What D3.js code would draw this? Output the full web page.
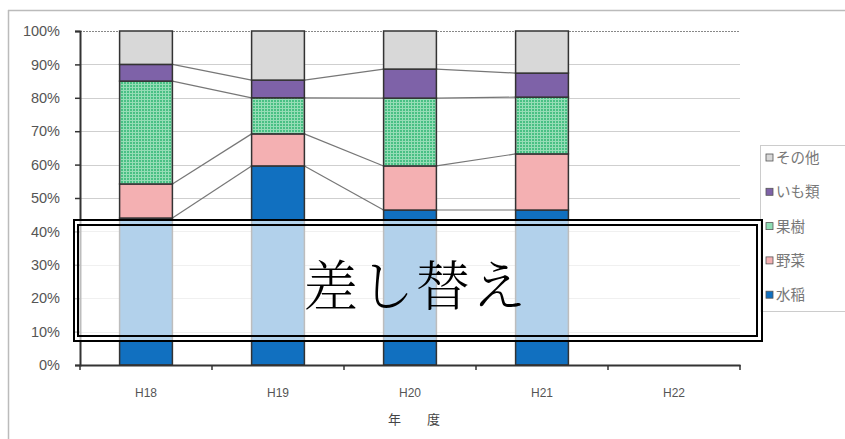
<!DOCTYPE html>
<html>
<head>
<meta charset="utf-8">
<script src="https://cdn.jsdelivr.net/npm/d3@7"></script>
<style>
  body { margin: 0; background: #fff; }
  svg { display: block; font-family: Arial, "Liberation Sans", "Noto Sans CJK JP", sans-serif; }
</style>
</head>
<body>
<script>
// Data (percent shares)
var years = ['H18', 'H19', 'H20', 'H21', 'H22'];
var seriesNames = ['水稲', '野菜', '果樹', 'いも類', 'その他'];
var suito = [44.0, 59.6, 46.4, 46.4, null];
var yasai = [10.2, 9.6, 13.2, 16.8, null];
var kaju = [30.8, 10.8, 20.3, 17.0, null];
var imo = [5.0, 5.3, 8.7, 7.2, null];
var sonota = [10.0, 14.7, 11.4, 12.6, null];
var yTicks = [0, 10, 20, 30, 40, 50, 60, 70, 80, 90, 100];

var colors = ['#1170c0', '#f4b0b2', 'url(#check)', '#7e62a8', '#d8d8d8'];
var legendColors = ['#1170c0', '#f4b0b2', '#8fdcb4', '#7e62a8', '#d8d8d8'];

var WIDTH = 845, HEIGHT = 439;
var X0 = 80, X1 = 740, Y0 = 365, Y1 = 31;

var rows = years.map(function (y, i) {
  return { year: y, '水稲': suito[i], '野菜': yasai[i], '果樹': kaju[i], 'いも類': imo[i], 'その他': sonota[i] };
});
var stacked = d3.stack().keys(seriesNames)
  .value(function (d, k) { return d[k] == null ? 0 : d[k]; })(rows);

var x = d3.scaleBand().domain(years).range([X0, X1]).paddingInner(0.6).paddingOuter(0.3);
var y = d3.scaleLinear().domain([0, 100]).range([Y0, Y1]);

var svg = d3.select('body').append('svg')
  .attr('width', WIDTH)
  .attr('height', HEIGHT);

var defs = svg.append('defs');
var pat = defs.append('pattern')
  .attr('id', 'check')
  .attr('patternUnits', 'userSpaceOnUse')
  .attr('width', 3)
  .attr('height', 3);
pat.append('rect').attr('width', 3).attr('height', 3).attr('fill', '#48c084');
pat.append('rect').attr('width', 3).attr('height', 1).attr('fill', '#95ddb6');
pat.append('rect').attr('width', 1).attr('height', 3).attr('fill', '#95ddb6');

// outer chart frame
svg.append('line').attr('x1', 8).attr('x2', WIDTH).attr('y1', 10.5).attr('y2', 10.5)
  .attr('stroke', '#bbb').attr('stroke-width', 1.5);
svg.append('line').attr('x1', 8.5).attr('x2', 8.5).attr('y1', 10).attr('y2', HEIGHT)
  .attr('stroke', '#bbb').attr('stroke-width', 1.5);

// gridlines
svg.append('g').selectAll('line')
  .data(yTicks.filter(function (t) { return t > 0; }))
  .join('line')
  .attr('x1', X0).attr('x2', X1)
  .attr('y1', function (d) { return Math.round(y(d)) + 0.5; })
  .attr('y2', function (d) { return Math.round(y(d)) + 0.5; })
  .attr('stroke', function (d) { return d === 100 ? '#888' : '#cfcfcf'; })
  .attr('stroke-dasharray', function (d) { return d === 100 ? '2,1' : null; })
  .attr('stroke-width', 1.2);

// series lines
var bw = x.bandwidth();
var serLines = [];
stacked.slice(0, 4).forEach(function (s) {
  for (var i = 0; i < years.length - 1; i++) {
    if (rows[i + 1][s.key] == null) continue;
    serLines.push({ x1: x(years[i]) + bw, y1: y(s[i][1]), x2: x(years[i + 1]), y2: y(s[i + 1][1]) });
  }
});
svg.append('g').selectAll('line')
  .data(serLines)
  .join('line')
  .attr('x1', function (d) { return d.x1; })
  .attr('y1', function (d) { return d.y1; })
  .attr('x2', function (d) { return d.x2; })
  .attr('y2', function (d) { return d.y2; })
  .attr('stroke', '#777')
  .attr('stroke-width', 1.2);

// bars
svg.append('g').selectAll('g')
  .data(stacked)
  .join('g')
  .attr('fill', function (d, i) { return colors[i]; })
  .selectAll('rect')
  .data(function (d) { return d.filter(function (p) { return p[1] > p[0]; }); })
  .join('rect')
  .attr('x', function (d) { return x(d.data.year); })
  .attr('y', function (d) { return y(d[1]); })
  .attr('width', bw)
  .attr('height', function (d) { return y(d[0]) - y(d[1]); })
  .attr('stroke', '#333')
  .attr('stroke-width', 1.5);

// y axis
var yAxis = svg.append('g')
  .attr('transform', 'translate(' + X0 + ',0)')
  .call(d3.axisLeft(y).tickValues(yTicks).tickSize(5).tickPadding(15)
    .tickFormat(function (d) { return d + '%'; }));
yAxis.select('.domain').attr('stroke', '#333').attr('stroke-width', 2);
yAxis.selectAll('.tick line').attr('stroke', '#333').attr('stroke-width', 1.5);
yAxis.selectAll('.tick text').attr('fill', '#555').attr('font-size', 14.5).attr('font-family', 'Arial, "Liberation Sans", sans-serif');

// x axis
var xAxis = svg.append('g')
  .attr('transform', 'translate(0,' + Y0 + ')')
  .call(d3.axisBottom(x).tickSize(0).tickPadding(23));
xAxis.select('.domain').attr('stroke', '#333').attr('stroke-width', 2);
xAxis.selectAll('.tick text').attr('fill', '#555').attr('font-size', 12).attr('font-family', 'Arial, "Liberation Sans", sans-serif');
var step = x.step();
svg.append('g').selectAll('line')
  .data(d3.range(years.length + 1))
  .join('line')
  .attr('x1', function (i) { return X0 + i * step; })
  .attr('x2', function (i) { return X0 + i * step; })
  .attr('y1', Y0).attr('y2', Y0 + 5)
  .attr('stroke', '#333').attr('stroke-width', 1.5);

svg.append('text')
  .attr('x', (X0 + X1) / 2 + 4)
  .attr('y', 424)
  .attr('text-anchor', 'middle')
  .attr('fill', '#444')
  .attr('font-size', 13)
  .attr('font-family', '"Noto Sans CJK JP", sans-serif')
  .text('年　　度');

// legend
var legend = svg.append('g');
legend.append('rect')
  .attr('x', 760.5).attr('y', 145.5).attr('width', 100).attr('height', 166)
  .attr('fill', '#fff').attr('stroke', '#ccc');
var legItems = legend.selectAll('g')
  .data(seriesNames.slice().reverse())
  .join('g')
  .attr('transform', function (d, i) { return 'translate(766,' + (158 + i * 34.3) + ')'; });
legItems.append('rect')
  .attr('x', 0).attr('y', -4).attr('width', 7).attr('height', 7)
  .attr('fill', function (d) { return legendColors[seriesNames.indexOf(d)]; })
  .attr('stroke', '#555').attr('stroke-width', 0.8);
legItems.append('text')
  .attr('x', 10).attr('y', 5)
  .attr('fill', '#777')
  .attr('font-size', 14.5)
  .attr('font-family', '"Noto Sans CJK JP", sans-serif')
  .text(function (d) { return d; });

// "差し替え" overlay box
var overlay = svg.append('g');
overlay.append('rect')
  .attr('x', 74).attr('y', 220).attr('width', 688).attr('height', 121)
  .attr('fill', '#fff').attr('fill-opacity', 0.68)
  .attr('stroke', '#000').attr('stroke-width', 2);
overlay.append('rect')
  .attr('x', 78).attr('y', 225).attr('width', 679).attr('height', 111)
  .attr('fill', 'none')
  .attr('stroke', '#000').attr('stroke-width', 2);
overlay.append('text')
  .attr('x', 416)
  .attr('y', 306)
  .attr('text-anchor', 'middle')
  .attr('fill', '#000')
  .attr('font-size', 54)
  .attr('letter-spacing', 2)
  .attr('font-family', '"Noto Serif CJK JP", "Noto Sans CJK JP", serif')
  .attr('font-weight', 300)
  .text('差し替え');
</script>
</body>
</html>
